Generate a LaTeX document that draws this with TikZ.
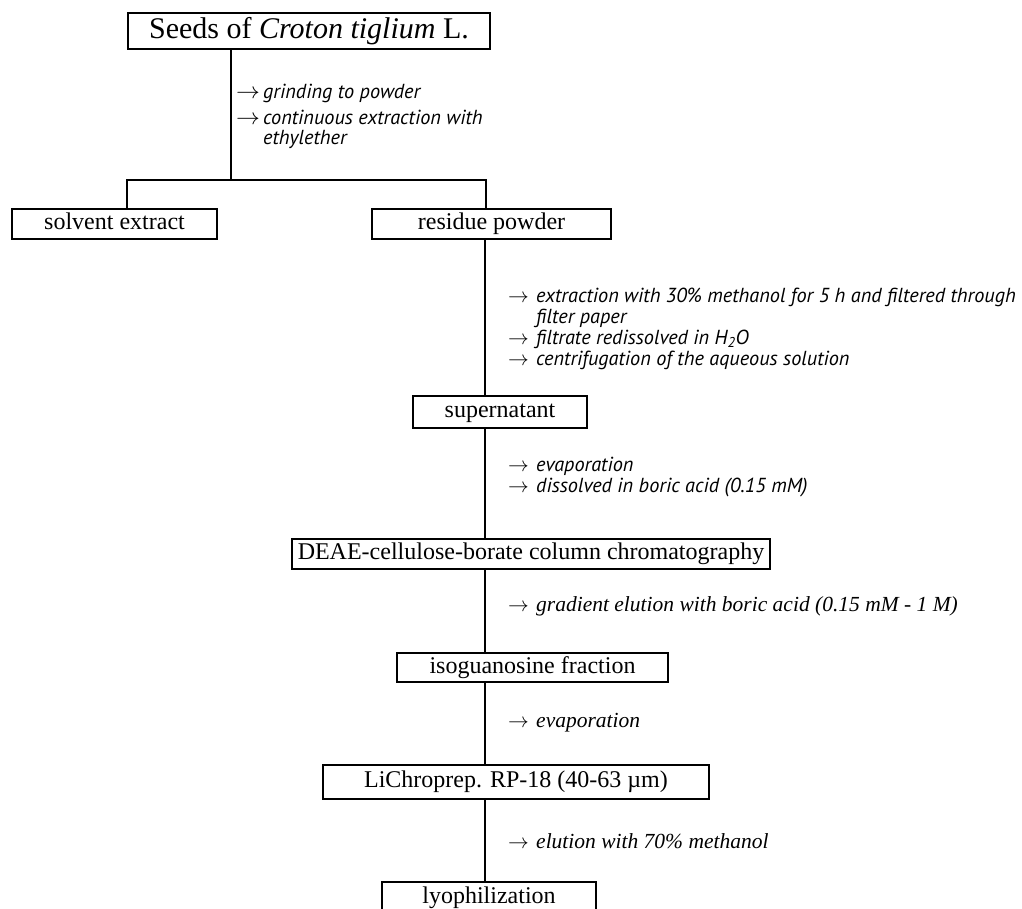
\documentclass[tikz,border=0pt]{standalone}
\usepackage{graphicx}
\usepackage{fontspec}
\setmainfont{Liberation Serif}
\newfontfamily\notefont{PT Sans}
\newcommand{\lead}{\makebox[27pt][l]{\scalebox{1.15}[1.1]{$\rightarrow$}}}
\newcommand{\pointer}{\makebox[28pt][l]{$\rightarrow$}}

\begin{document}
\begin{tikzpicture}[x=1pt,y=-1pt,
		box/.style={draw=black,line width=1.6pt,inner sep=0pt,text height=16pt,text depth=5pt,font=\fontsize{24}{28}\selectfont},
		link/.style={draw=black,line width=1.5pt},
		note/.style={anchor=west,inner sep=0pt,font=\fontsize{20.3}{24}\notefont\itshape},
		tnote/.style={anchor=west,inner sep=0pt,font=\fontsize{21.5}{25}\selectfont\itshape}]
	\useasboundingbox (0,0) rectangle (1022,908);
	% boxes
	\node[box,minimum width=362,minimum height=36,text height=20pt,text depth=6pt,font=\fontsize{30}{34}\selectfont] (seeds) at (309,31) {Seeds of \textit{Croton tiglium} L.};
	\node[box,minimum width=205,minimum height=30] (solvent) at (114.5,224) {solvent extract};
	\node[box,minimum width=239,minimum height=30] (residue) at (491.5,224) {residue powder};
	\node[box,minimum width=174,minimum height=32] (super) at (500,412) {supernatant};
	\node[box,minimum width=478,minimum height=30] (deae) at (531,554) {DEAE-cellulose-borate column chromatography};
	\node[box,minimum width=271,minimum height=29] (iso) at (532.5,667.5) {isoguanosine fraction};
	\node[box,minimum width=386,minimum height=34] (lichro) at (516,782) {LiChroprep. RP-18 (40-63 µm)};
	\node[box,minimum width=214,minimum height=32] (lyo) at (489,898) {lyophilization};
	% connectors
	\coordinate (split) at (231,180);
	\coordinate (lbranch) at (127,180);
	\coordinate (rbranch) at (486,180);
	\coordinate (axis) at (485,0);
	\draw[link] (seeds.south -| split) -- (split);
	\draw[link] (solvent.north -| lbranch) -- (lbranch) -- (rbranch) -- (residue.north -| rbranch);
	\draw[link] (residue.south -| axis) -- (super.north -| axis);
	\draw[link] (super.south -| axis) -- (deae.north -| axis);
	\draw[link] (deae.south -| axis) -- (iso.north -| axis);
	\draw[link] (iso.south -| axis) -- (lichro.north -| axis);
	\draw[link] (lichro.south -| axis) -- (lyo.north -| axis);
	% notes
	\node[note] (grind) at (236,93) {\lead grinding to powder};
	\node[note] (contin) at (236,117) {\lead continuous extraction with};
	\node[note] (ether) at (263,139) {ethylether};
	\node[note] (extr) at (508,297) {\pointer extraction with 30\% methanol for 5 h and filtered through};
	\node[note] (paper) at (536,318) {filter paper};
	\node[note] (filtr) at (508,339) {\pointer filtrate redissolved in H\textsubscript{2}O};
	\node[note] (centr) at (508,360) {\pointer centrifugation of the aqueous solution};
	\node[note] (evap) at (508,466) {\pointer evaporation};
	\node[note] (boric) at (508,487) {\pointer dissolved in boric acid (0.15 mM)};
	\node[tnote] (grad) at (508,606) {\pointer gradient elution with boric acid (0.15 mM - 1 M)};
	\node[tnote] (evap2) at (508,723) {\pointer evaporation};
	\node[tnote] (elut) at (508,841) {\pointer elution with 70\% methanol};
\end{tikzpicture}
\end{document}
